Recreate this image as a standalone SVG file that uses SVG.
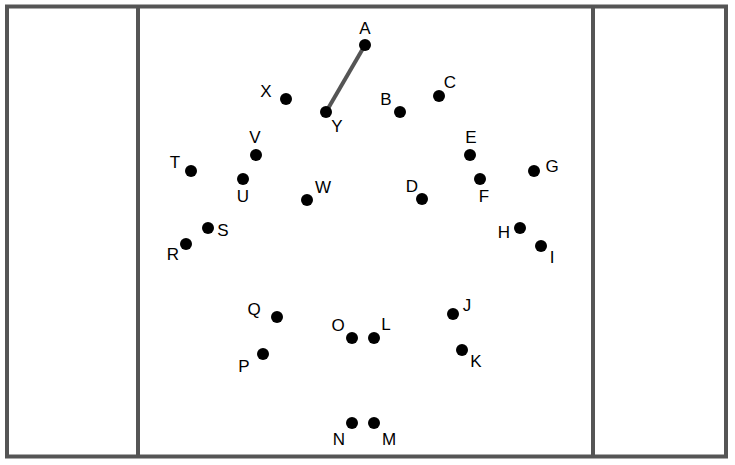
<svg xmlns="http://www.w3.org/2000/svg" width="735" height="465" viewBox="0 0 735 465">
<style>
.frame{fill:none;stroke:#555;stroke-width:4}
.dot{fill:#000}
.lbl{font-family:"Liberation Sans",Arial,sans-serif;font-size:17px;fill:#000;text-anchor:middle}
.conn{stroke:#555;stroke-width:4;fill:none}
</style>
<rect fill="#fff" width="735" height="465"/>
<g id="field">
<rect class="frame" x="7" y="6.5" width="719" height="450"/>
<line class="frame" x1="138" y1="6.5" x2="138" y2="456.5"/>
<line class="frame" x1="593" y1="6.5" x2="593" y2="456.5"/>
</g>
<g id="connectors">
<line class="conn" x1="365" y1="45" x2="326" y2="112"/>
</g>
<g id="A"><circle class="dot" cx="365" cy="45" r="6"/><text class="lbl" x="365" y="34">A</text></g>
<g id="B"><circle class="dot" cx="400" cy="112" r="6"/><text class="lbl" x="386" y="105">B</text></g>
<g id="C"><circle class="dot" cx="439" cy="96" r="6"/><text class="lbl" x="450" y="88">C</text></g>
<g id="D"><circle class="dot" cx="422" cy="199" r="6"/><text class="lbl" x="412" y="192">D</text></g>
<g id="E"><circle class="dot" cx="470" cy="155" r="6"/><text class="lbl" x="471" y="143">E</text></g>
<g id="F"><circle class="dot" cx="480" cy="179" r="6"/><text class="lbl" x="484" y="202">F</text></g>
<g id="G"><circle class="dot" cx="534" cy="171" r="6"/><text class="lbl" x="552" y="172">G</text></g>
<g id="H"><circle class="dot" cx="520" cy="228" r="6"/><text class="lbl" x="504" y="238">H</text></g>
<g id="I"><circle class="dot" cx="541" cy="246" r="6"/><text class="lbl" x="552" y="263">I</text></g>
<g id="J"><circle class="dot" cx="453" cy="314" r="6"/><text class="lbl" x="467" y="311">J</text></g>
<g id="K"><circle class="dot" cx="462" cy="350" r="6"/><text class="lbl" x="476" y="367">K</text></g>
<g id="L"><circle class="dot" cx="374" cy="338" r="6"/><text class="lbl" x="386" y="330">L</text></g>
<g id="M"><circle class="dot" cx="374" cy="423" r="6"/><text class="lbl" x="389" y="445">M</text></g>
<g id="N"><circle class="dot" cx="352" cy="423" r="6"/><text class="lbl" x="339" y="445">N</text></g>
<g id="O"><circle class="dot" cx="352" cy="338" r="6"/><text class="lbl" x="338" y="331">O</text></g>
<g id="P"><circle class="dot" cx="263" cy="354" r="6"/><text class="lbl" x="244" y="372">P</text></g>
<g id="Q"><circle class="dot" cx="277" cy="317" r="6"/><text class="lbl" x="254" y="315">Q</text></g>
<g id="R"><circle class="dot" cx="186" cy="244" r="6"/><text class="lbl" x="173" y="260">R</text></g>
<g id="S"><circle class="dot" cx="208" cy="228" r="6"/><text class="lbl" x="223" y="236">S</text></g>
<g id="T"><circle class="dot" cx="191" cy="171" r="6"/><text class="lbl" x="175" y="168">T</text></g>
<g id="U"><circle class="dot" cx="243" cy="179" r="6"/><text class="lbl" x="243" y="202">U</text></g>
<g id="V"><circle class="dot" cx="256" cy="155" r="6"/><text class="lbl" x="255" y="143">V</text></g>
<g id="W"><circle class="dot" cx="307" cy="200" r="6"/><text class="lbl" x="323" y="193">W</text></g>
<g id="X"><circle class="dot" cx="286" cy="99" r="6"/><text class="lbl" x="266" y="97">X</text></g>
<g id="Y"><circle class="dot" cx="326" cy="112" r="6"/><text class="lbl" x="337" y="132">Y</text></g>
</svg>
